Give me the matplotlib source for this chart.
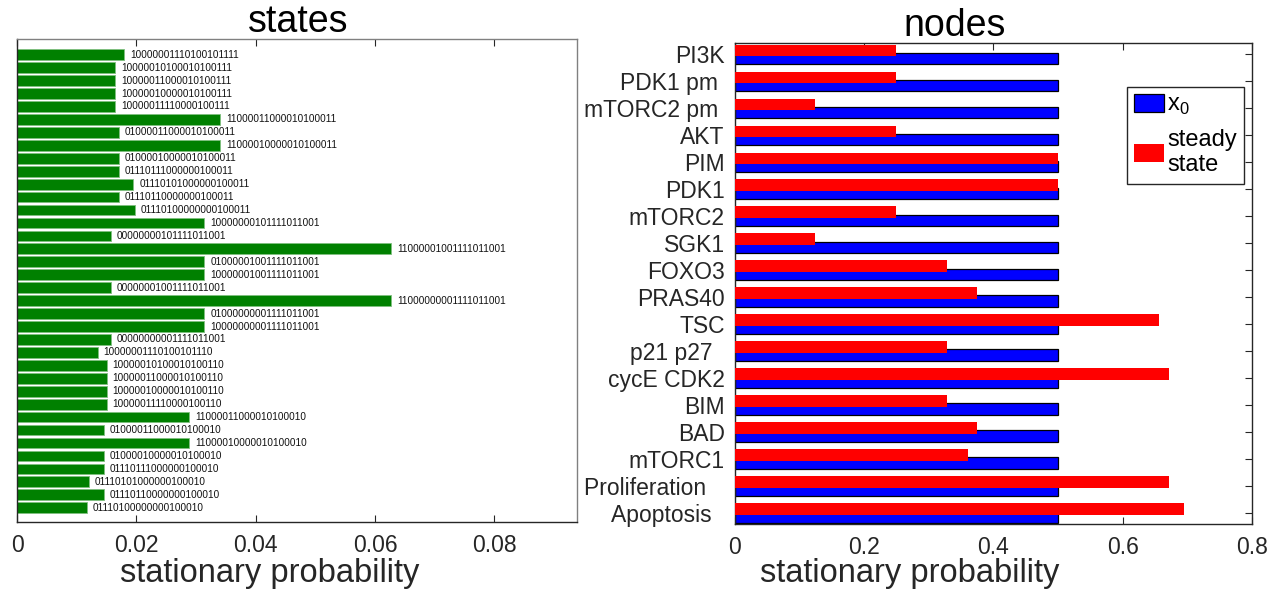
import matplotlib
matplotlib.use("Agg")
import matplotlib.pyplot as plt
from matplotlib.patches import Patch
import numpy as np

# ---------------- data ----------------
state_labels = [
    "10000001110100101111", "10000010100010100111", "10000011000010100111",
    "10000010000010100111", "10000011110000100111", "11000011000010100011",
    "01000011000010100011", "11000010000010100011", "01000010000010100011",
    "01110111000000100011", "01110101000000100011", "01110110000000100011",
    "01110100000000100011", "10000000101111011001", "00000000101111011001",
    "11000001001111011001", "01000001001111011001", "10000001001111011001",
    "00000001001111011001", "11000000001111011001", "01000000001111011001",
    "10000000001111011001", "00000000001111011001", "10000001110100101110",
    "10000010100010100110", "10000011000010100110", "10000010000010100110",
    "10000011110000100110", "11000011000010100010", "01000011000010100010",
    "11000010000010100010", "01000010000010100010", "01110111000000100010",
    "01110101000000100010", "01110110000000100010", "01110100000000100010",
]
state_probs = [
    0.0180, 0.0165, 0.0165, 0.0165, 0.0165, 0.0340,
    0.0171, 0.0340, 0.0171, 0.0171, 0.0195, 0.0171,
    0.0197, 0.0314, 0.0157, 0.0627, 0.0314, 0.0314,
    0.0157, 0.0627, 0.0314, 0.0314, 0.0157, 0.0135,
    0.0150, 0.0150, 0.0150, 0.0150, 0.0288, 0.0145,
    0.0288, 0.0145, 0.0145, 0.0120, 0.0145, 0.0117,
]

node_labels = ["PI3K", "PDK1 pm ", "mTORC2 pm ", "AKT", "PIM", "PDK1", "mTORC2",
               "SGK1", "FOXO3", "PRAS40", "TSC", "p21 p27  ", "cycE CDK2", "BIM",
               "BAD", "mTORC1", "Proliferation   ", "Apoptosis  "]
x0_values = [0.5] * 18
steady_values = [0.25, 0.25, 0.125, 0.25, 0.5, 0.5, 0.25, 0.125, 0.3286, 0.375,
                 0.657, 0.3286, 0.672, 0.3286, 0.375, 0.3605, 0.672, 0.6955]

states_xticks = [0, 0.02, 0.04, 0.06, 0.08]
states_xticklabels = ["0", "0.02", "0.04", "0.06", "0.08"]
nodes_xticks = [0, 0.2, 0.4, 0.6, 0.8]
nodes_xticklabels = ["0", "0.2", "0.4", "0.6", "0.8"]

# ---------------- style ----------------
plt.rcParams["font.family"] = ["Liberation Sans", "DejaVu Sans"]
TXT = "#262626"

W, H = 1282, 589
fig = plt.figure(figsize=(W / 100, H / 100), dpi=100)

def ax_rect(l, t, r, b):
    return [l / W, 1 - b / H, (r - l) / W, (b - t) / H]

# ---------------- left panel: states ----------------
L1, T1, R1, B1 = 17, 39.3, 577.3, 521.7
ax1 = fig.add_axes(ax_rect(L1, T1, R1, B1))
ypos = np.arange(len(state_labels))
ax1.barh(ypos, state_probs, height=0.83, color="#008000",
         edgecolor="#7fbf7f", linewidth=0.6)
for y, v, lab in zip(ypos, state_probs, state_labels):
    ax1.text(v + 0.0010, y, lab, va="center", ha="left",
             fontsize=7.2, color="#111111")
ax1.set_xlim(0, 0.0939)
ax1.set_ylim(len(state_labels) - 1 + 1.08, -1.19)
ax1.set_yticks([])
ax1.set_xticks(states_xticks)
ax1.set_xticklabels(states_xticklabels, fontsize=16.5, color=TXT)
ax1.tick_params(axis="x", direction="in", top=True, bottom=True, length=5,
                pad=9, color=TXT)
ax1.set_xlabel("stationary probability", fontsize=23.5, color=TXT)
ax1.xaxis.set_label_coords((270 - L1) / (R1 - L1), -(582 - B1) / (B1 - T1))
ax1.xaxis.label.set_verticalalignment("baseline")
ax1.set_title("states", fontsize=27, x=(298 - L1) / (R1 - L1),
              y=1 + (T1 - 32) / (B1 - T1), va="baseline", pad=0)
for s in ["left", "bottom"]:
    ax1.spines[s].set_color(TXT)
for s in ["top", "right"]:
    ax1.spines[s].set_color("#808080")
for s in ax1.spines.values():
    s.set_linewidth(1.0)

# ---------------- right panel: nodes ----------------
L2, T2, R2, B2 = 734.5, 42.7, 1252, 524
ax2 = fig.add_axes(ax_rect(L2, T2, R2, B2))
npos = np.arange(len(node_labels))
bh = 0.42
ax2.barh(npos + 0.16, x0_values, height=bh, color="#0000ff",
         edgecolor="black", linewidth=0.9, zorder=2)
ax2.barh(npos - 0.14, steady_values, height=bh, color="#ff0000",
         edgecolor="none", zorder=3)
ax2.set_xlim(0, 0.8)
ax2.set_ylim(len(node_labels) - 1 + 0.42, -0.42)
ax2.set_yticks(npos)
ax2.set_yticklabels(node_labels, fontsize=16.5, color=TXT)
ax2.set_xticks(nodes_xticks)
ax2.set_xticklabels(nodes_xticklabels, fontsize=16.5, color=TXT)
ax2.tick_params(axis="x", direction="in", top=True, bottom=True, length=5,
                pad=9, color=TXT)
ax2.tick_params(axis="y", direction="in", left=True, right=True, length=5,
                pad=7, color=TXT)
ax2.set_xlabel("stationary probability", fontsize=23.5, color=TXT)
ax2.xaxis.set_label_coords((910 - L2) / (R2 - L2), -(582 - B2) / (B2 - T2))
ax2.xaxis.label.set_verticalalignment("baseline")
ax2.set_title("nodes", fontsize=27, x=(955 - L2) / (R2 - L2),
              y=1 + (T2 - 36) / (B2 - T2), va="baseline", pad=0)
for s in ax2.spines.values():
    s.set_color(TXT)
    s.set_linewidth(1.0)

handles = [Patch(facecolor="#0000ff", edgecolor="black", linewidth=0.9),
           Patch(facecolor="#ff0000", edgecolor="none")]
leg = ax2.legend(handles, ["x$_{\\mathregular{0}}$", "steady\nstate"],
                 loc="upper right", bbox_to_anchor=(1244 / W, 1 - 86.7 / H),
                 bbox_transform=fig.transFigure, fontsize=17, borderaxespad=0,
                 handlelength=1.25, handleheight=0.8, handletextpad=0.15,
                 borderpad=0.3, labelspacing=0.5, fancybox=False, framealpha=1)
leg.get_frame().set_edgecolor(TXT)
leg.get_frame().set_linewidth(1.0)

fig.savefig("out.png", dpi=100)
